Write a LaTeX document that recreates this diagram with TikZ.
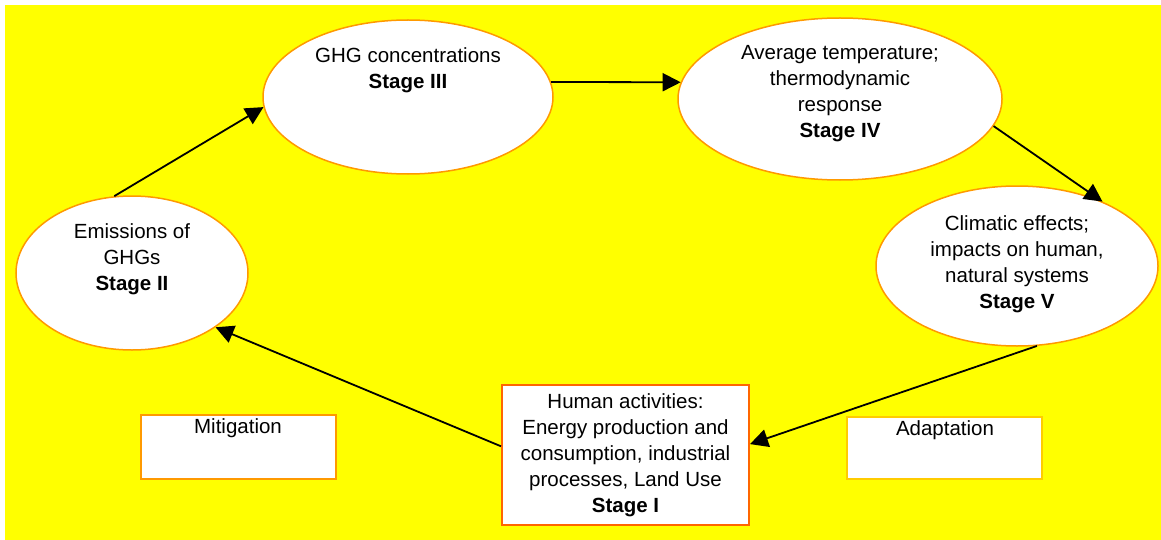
\documentclass[tikz,border=0pt]{standalone}
\usepackage{fontspec}
\setmainfont{Liberation Sans}
\usetikzlibrary{shapes.geometric,arrows.meta}
\definecolor{bgyellow}{RGB}{255,255,0}
\definecolor{rimorange}{RGB}{255,153,0}
\definecolor{rimred}{RGB}{255,102,0}
\definecolor{rimgold}{RGB}{255,204,0}
\begin{document}
\begin{tikzpicture}[x=0.5pt,y=-0.5pt,
    stage/.style={ellipse,draw=rimorange,line width=0.75pt,fill=white},
    panel/.style={rectangle,line width=1pt,fill=white},
    txt/.style={align=center,inner sep=0pt,font=\fontsize{10.25}{13}\selectfont},
    arr/.style={-{Triangle[length=9pt,width=9pt]},line width=0.9pt}]
            \useasboundingbox (0,0) rectangle (1161,540);
            \fill[bgyellow] (5,5) rectangle (1161,540);
            \node[stage,minimum width=116pt,minimum height=77pt] (emis) at (132,273) {};
            \node[stage,minimum width=145pt,minimum height=77pt] (conc) at (408,97) {};
            \node[stage,minimum width=162pt,minimum height=81pt] (temp) at (840,99) {};
            \node[stage,minimum width=141pt,minimum height=80pt] (impact) at (1017,266) {};
            \node[txt] (emis-txt) at (132,259) {Emissions of\\GHGs\\\textbf{Stage II}};
            \node[txt] (conc-txt) at (408,70) {GHG concentrations\\\textbf{Stage III}};
            \node[txt] (temp-txt) at (840,94) {Average temperature;\\thermodynamic\\response\\\textbf{Stage IV}};
            \node[txt] (impact-txt) at (1017,264) {Climatic effects;\\impacts on human,\\natural systems\\\textbf{Stage V}};
            \node[panel,txt,draw=rimred,inner sep=0pt,minimum width=123.5pt,minimum height=70pt] (act) at (625.5,455)
                {Human activities:\\Energy production and\\consumption, industrial\\processes, Land Use\\\textbf{Stage I}};
            \node[panel,draw=rimorange,minimum width=97.5pt,minimum height=32pt] (miti) at (238.5,447) {};
            \node[panel,draw=rimgold,minimum width=97.5pt,minimum height=31pt] (adap) at (944.5,448) {};
            \node[txt] (miti-txt) at (238,428) {Mitigation};
            \node[txt] (adap-txt) at (945,430) {Adaptation};
            \draw[arr] (emis.103) -- (conc.184);
            \draw[arr] (conc.6) -- (temp.174);
            \draw[arr] (temp.350) -- (impact.37);
            \draw[arr] (impact.284) -- (act.5);
            \draw[arr] (act.176) -- (emis.327);
        \end{tikzpicture}
\end{document}
